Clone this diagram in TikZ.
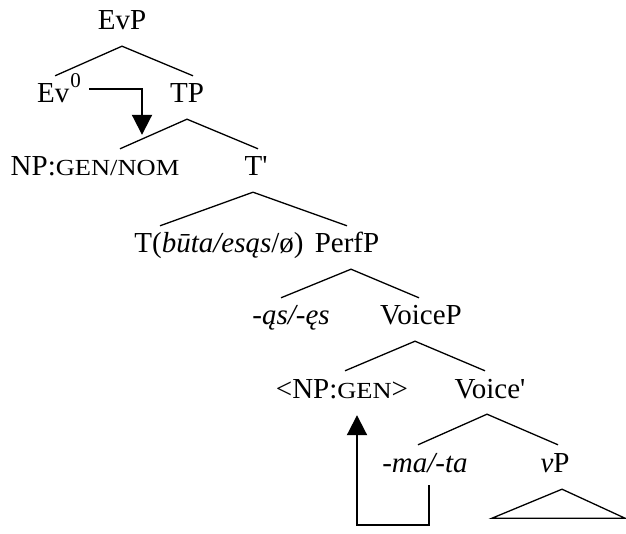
\documentclass[tikz,border=0pt]{standalone}
\usepackage{fontspec}
\setmainfont{Liberation Serif}
\usetikzlibrary{arrows.meta}
\newcommand{\gloss}[1]{{\fontsize{23pt}{26pt}\selectfont\addfontfeature{FakeStretch=1.15}#1}}
\newcommand{\head}{\hspace{1pt}\raisebox{15pt}{\fontsize{21pt}{21pt}\selectfont 0}}
\tikzset{
    label node/.style={inner sep=0pt, text height=20pt, text depth=7pt, anchor=base, font=\fontsize{29pt}{34pt}\selectfont},
    branch/.style={line width=1.3pt, line join=miter},
    move/.style={line width=2pt, -{Triangle[length=20pt,width=20pt]}}
}
\begin{document}
\begin{tikzpicture}[x=1pt,y=-1pt,every node/.style={label node}]
	\useasboundingbox (0,0) rectangle (626,534);
	% labels
	\node (evp) at (122,30) {EvP};
	\node[anchor=base west] (ev) at (37,103) {Ev\head};
	\node (tp) at (187,103) {TP};
	\node (np) at (95,176) {NP:\gloss{GEN/NOM}};
	\node (tbar) at (256,176) {T\textquotesingle};
	\node (t) at (219,253) {T(\textit{būta/esąs}/ø)};
	\node (perfp) at (347,253) {PerfP};
	\node (perf) at (291,325) {\textit{-ąs/-ęs}};
	\node (voicep) at (421,325) {VoiceP};
	\node (npgen) at (342,398) {<NP:\gloss{GEN}>};
	\node (voicebar) at (490,398) {Voice\textquotesingle};
	\node (voice) at (425,472) {\textit{-ma/-ta}};
	\node (vp) at (555,472) {\textit{v}P};
	% branches
	\draw[branch] ([xshift=-4pt,yshift=7pt]ev.north) -- ([yshift=-9pt]evp.south) -- ([xshift=6pt,yshift=7pt]tp.north);
	\draw[branch] ([xshift=25pt,yshift=7pt]np.north) -- ([yshift=-9pt]tp.south) -- ([xshift=2pt,yshift=7pt]tbar.north);
	\draw[branch] ([xshift=-59pt,yshift=7pt]t.north) -- ([xshift=-3pt,yshift=-9pt]tbar.south) -- ([yshift=7pt]perfp.north);
	\draw[branch] ([xshift=-10pt,yshift=7pt]perf.north) -- ([xshift=4pt,yshift=-9pt]perfp.south) -- ([xshift=-2pt,yshift=7pt]voicep.north);
	\draw[branch] ([xshift=3pt,yshift=7pt]npgen.north) -- ([xshift=-6pt,yshift=-9pt]voicep.south) -- ([xshift=-5pt,yshift=7pt]voicebar.north);
	\draw[branch] ([xshift=-7pt,yshift=7pt]voice.north) -- ([xshift=-3pt,yshift=-9pt]voicebar.south) -- ([xshift=3pt,yshift=7pt]vp.north);
	\draw[branch] ([xshift=-63pt,yshift=-39pt]vp.south) -- ([xshift=7pt,yshift=-10pt]vp.south) -- ([xshift=70pt,yshift=-39pt]vp.south) -- cycle;
	% movement
	\draw[move] ([xshift=8pt]ev.east |- 0,89) -| ([xshift=47pt,yshift=21pt]np.north);
	\draw[move] ([xshift=4pt,yshift=-6pt]voice.south) -- ++(0,40) -| ([xshift=15pt,yshift=-10pt]npgen.south);
\end{tikzpicture}
\end{document}
